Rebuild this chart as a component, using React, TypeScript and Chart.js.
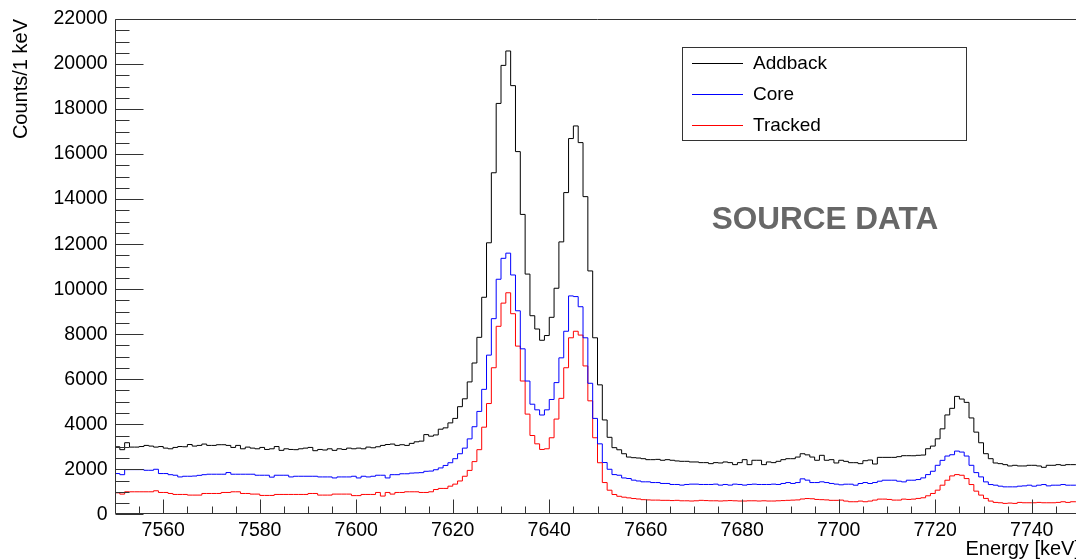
import React, { useEffect, useRef } from "react";
import { Chart, registerables } from "chart.js";

Chart.register(...registerables);

// ---- data: 1 keV bins, low edge of first bin = 7550 keV ----
const FIRST_BIN_EDGE = 7550;
const BIN_WIDTH = 1;
const X_MIN = 7550;
const X_MAX = 7750;
const Y_MIN = 0;
const Y_MAX = 22000;

const xTickLabels = [7560, 7580, 7600, 7620, 7640, 7660, 7680, 7700, 7720, 7740];
const yTickLabels = [0, 2000, 4000, 6000, 8000, 10000, 12000, 14000, 16000, 18000, 20000, 22000];

const seriesNames = ["Addback", "Core", "Tracked"];
const seriesColors = ["#000000", "#0000ff", "#ff0000"];

const addback = [
  3000, 2870, 3180, 2985, 2985, 3010, 3060, 3030, 2985, 3010,
  2940, 2910, 2970, 3010, 3000, 3100, 3030, 3060, 3120, 3060,
  3060, 3090, 3090, 3060, 2970, 3060, 2910, 2985, 2940, 2910,
  2970, 2880, 2910, 3010, 2840, 2910, 2880, 2870, 2910, 2940,
  2970, 2825, 2880, 2855, 2910, 2840, 2910, 2880, 2940, 2910,
  2940, 2910, 2985, 2955, 3000, 3060, 3100, 3120, 3060, 3090,
  3060, 3150, 3220, 3250, 3540, 3470, 3525, 3780, 3840, 4060,
  4260, 4780, 5130, 5880, 6720, 7860, 9640, 12060, 15170, 18250,
  19940, 20580, 19040, 16110, 13320, 10670, 8820, 8230, 7730, 7940,
  8750, 10040, 12100, 14290, 16690, 17250, 16510, 14110, 10810, 7840,
  5750, 4190, 3420, 2960, 2866, 2690, 2543, 2515, 2500, 2470,
  2427, 2427, 2440, 2400, 2427, 2400, 2370, 2353, 2353, 2325,
  2325, 2295, 2295, 2250, 2295, 2280, 2325, 2295, 2206, 2295,
  2427, 2206, 2400, 2400, 2206, 2325, 2295, 2353, 2427, 2470,
  2470, 2543, 2690, 2640, 2543, 2400, 2620, 2400, 2427, 2280,
  2400, 2352, 2293, 2293, 2250, 2380, 2411, 2234, 2529, 2529,
  2529, 2529, 2560, 2603, 2603, 2600, 2620, 2632, 2912, 3030,
  3352, 3796, 4413, 4707, 5237, 5119, 4972, 4280, 3650, 3178,
  2692, 2470, 2279, 2250, 2206, 2147, 2176, 2147, 2147, 2176,
  2176, 2147, 2087, 2176, 2176, 2206, 2176, 2206, 2206, 2206,
];

const core = [
  1810, 1760, 1985, 1985, 1985, 1985, 1955, 1955, 2000, 1810,
  1810, 1760, 1735, 1660, 1690, 1690, 1700, 1730, 1760, 1780,
  1780, 1780, 1780, 1855, 1780, 1780, 1780, 1780, 1780, 1735,
  1735, 1735, 1650, 1735, 1735, 1735, 1660, 1690, 1690, 1690,
  1690, 1690, 1660, 1660, 1660, 1615, 1660, 1660, 1660, 1690,
  1615, 1690, 1660, 1690, 1735, 1735, 1615, 1760, 1760, 1800,
  1800, 1830, 1840, 1850, 1910, 1920, 1980, 2060, 2170, 2290,
  2470, 2690, 2940, 3350, 3890, 4570, 5550, 7070, 8690, 10440,
  11370, 11600, 10630, 9040, 7350, 5920, 4890, 4640, 4410, 4640,
  5100, 5850, 6950, 8130, 9700, 9670, 9220, 7840, 5820, 4260,
  3130, 2300, 2000, 1764, 1735, 1615, 1590, 1516, 1480, 1443,
  1443, 1410, 1410, 1370, 1370, 1325, 1325, 1296, 1325, 1340,
  1340, 1325, 1325, 1325, 1340, 1296, 1325, 1296, 1340, 1325,
  1296, 1325, 1340, 1325, 1325, 1325, 1340, 1325, 1370, 1410,
  1370, 1410, 1575, 1516, 1410, 1410, 1443, 1410, 1370, 1340,
  1310, 1337, 1337, 1293, 1368, 1411, 1368, 1411, 1470, 1514,
  1514, 1514, 1470, 1440, 1514, 1514, 1543, 1617, 1764, 1911,
  2176, 2396, 2588, 2646, 2808, 2764, 2588, 2176, 1852, 1661,
  1440, 1322, 1293, 1249, 1219, 1219, 1219, 1249, 1263, 1293,
  1249, 1293, 1322, 1263, 1293, 1293, 1322, 1293, 1293, 1293,
];

const tracked = [
  955, 897, 1000, 1000, 1000, 1000, 1000, 1000, 1045, 970,
  970, 925, 882, 882, 882, 853, 853, 853, 925, 925,
  925, 925, 970, 970, 1000, 1000, 925, 925, 897, 897,
  838, 838, 838, 882, 882, 882, 882, 882, 882, 882,
  925, 925, 853, 853, 853, 897, 897, 897, 897, 830,
  830, 882, 882, 882, 970, 810, 970, 897, 970, 970,
  1000, 1000, 1000, 970, 970, 1000, 1100, 1150, 1150, 1250,
  1340, 1480, 1690, 1950, 2340, 2870, 3870, 4920, 6510, 8350,
  9380, 9840, 8910, 7470, 5920, 4450, 3500, 3130, 2880, 2910,
  3400, 4230, 5150, 6510, 7840, 8130, 7960, 6590, 5040, 3400,
  2290, 1410, 1070, 880, 800, 760, 730, 700, 680, 650,
  640, 630, 630, 620, 620, 610, 620, 600, 600, 590,
  600, 620, 610, 600, 600, 590, 600, 610, 600, 590,
  590, 600, 600, 590, 600, 590, 590, 600, 610, 620,
  630, 640, 680, 700, 690, 660, 650, 640, 620, 620,
  631, 587, 558, 558, 587, 558, 587, 631, 675, 675,
  660, 631, 631, 675, 660, 675, 705, 734, 822, 925,
  1072, 1293, 1514, 1705, 1764, 1734, 1587, 1322, 1028, 852,
  705, 587, 528, 513, 484, 499, 484, 528, 513, 513,
  513, 528, 513, 513, 513, 528, 558, 528, 558, 558,
];

const xTitle = "Energy [keV]";
const yTitle = "Counts/1 keV";
const watermark = "SOURCE DATA";

const FONT = '"Liberation Sans", Arial, Helvetica, sans-serif';

function toSteps(values: number[]) {
  const pts = values.map((v, i) => ({ x: FIRST_BIN_EDGE + i * BIN_WIDTH, y: v }));
  pts.push({ x: FIRST_BIN_EDGE + values.length * BIN_WIDTH, y: values[values.length - 1] });
  return pts;
}

const rootStylePlugin = {
  id: "rootStyle",
  afterDraw(chart: any) {
    const { ctx, chartArea: a, scales } = chart;
    const xs = scales.x;
    const ys = scales.y;
    ctx.save();
    const L = Math.round(a.left) + 0.5;
    const B = Math.round(a.bottom) - 0.5;
    const T = Math.round(a.top) + 0.5;
    const R = Math.round(a.right) - 0.5;
    ctx.strokeStyle = "#333";
    ctx.lineWidth = 1;
    ctx.beginPath();
    ctx.moveTo(L, B);
    ctx.lineTo(L, T);
    ctx.lineTo(R, T);
    ctx.lineTo(R, B);
    ctx.lineTo(L, B);
    ctx.stroke();

    // x ticks (inside), major every 20, minor every 5
    ctx.beginPath();
    for (let v = X_MIN; v <= X_MAX; v += 5) {
      const px = Math.round(xs.getPixelForValue(v)) + 0.5;
      const len = v % 20 === 0 ? 14 : 7;
      ctx.moveTo(px, B);
      ctx.lineTo(px, B - len);
    }
    // y ticks (inside), major every 2000, minor every 500
    for (let v = Y_MIN; v <= Y_MAX; v += 500) {
      const py = Math.round(ys.getPixelForValue(v)) + 0.5;
      const len = v % 2000 === 0 ? 28 : 14;
      ctx.moveTo(L, py);
      ctx.lineTo(L + len, py);
    }
    ctx.stroke();

    // x tick labels, placed through the x scale
    ctx.fillStyle = "#000";
    ctx.font = `19.5px ${FONT}`;
    ctx.textAlign = "center";
    ctx.textBaseline = "alphabetic";
    xs.ticks.forEach((t: any) => {
      ctx.fillText(String(t.value), xs.getPixelForValue(t.value), 535.5);
    });

    // axis titles
    ctx.font = `20px ${FONT}`;
    ctx.textAlign = "right";
    ctx.fillText(xTitle, a.right, 554.5);
    ctx.save();
    ctx.translate(26.5, a.top);
    ctx.rotate(-Math.PI / 2);
    ctx.textAlign = "right";
    ctx.fillText(yTitle, 0, 0);
    ctx.restore();

    // watermark
    ctx.fillStyle = "#676767";
    ctx.font = `bold 31.5px ${FONT}`;
    ctx.textAlign = "center";
    ctx.textBaseline = "middle";
    ctx.fillText(watermark, 825, 220);

    // legend box
    const lx0 = 682.5, ly0 = 47.5, lx1 = 966.5, ly1 = 140.5;
    ctx.fillStyle = "#fff";
    ctx.fillRect(lx0, ly0, lx1 - lx0, ly1 - ly0);
    ctx.strokeStyle = "#333";
    ctx.strokeRect(lx0, ly0, lx1 - lx0, ly1 - ly0);
    const rows = [63, 94, 125];
    ctx.font = `19px ${FONT}`;
    ctx.textAlign = "left";
    ctx.textBaseline = "middle";
    chart.data.datasets.forEach((ds: any, i: number) => {
      const ry = rows[i] + 0.5;
      ctx.strokeStyle = ds.borderColor;
      ctx.beginPath();
      ctx.moveTo(692, ry);
      ctx.lineTo(743, ry);
      ctx.stroke();
      ctx.fillStyle = "#000";
      ctx.fillText(ds.label, 753, rows[i] + 1);
    });
    ctx.restore();
  },
};

export default function App() {
  const ref = useRef<HTMLCanvasElement | null>(null);
  useEffect(() => {
    if (!ref.current) return;
    const chart = new Chart(ref.current, {
      type: "line",
      data: {
        datasets: [addback, core, tracked].map((vals, i) => ({
          label: seriesNames[i],
          data: toSteps(vals),
          borderColor: seriesColors[i],
          borderWidth: 1,
          pointRadius: 0,
          stepped: "before" as const,
          fill: false,
          tension: 0,
        })),
      },
      options: {
        responsive: false,
        animation: false,
        events: [],
        layout: { padding: { left: 0, right: 20, top: 15.7, bottom: 0 } },
        plugins: { legend: { display: false }, tooltip: { enabled: false } },
        scales: {
          x: {
            type: "linear",
            min: X_MIN,
            max: X_MAX,
            grid: { display: false, drawTicks: false },
            border: { display: false },
            afterBuildTicks: (s: any) => {
              s.ticks = xTickLabels.map((v) => ({ value: v }));
            },
            ticks: { display: false },
            afterFit: (s: any) => {
              s.height = 45.7;
            },
          },
          y: {
            type: "linear",
            min: Y_MIN,
            max: Y_MAX,
            grid: { display: false, drawTicks: false },
            border: { display: false },
            afterBuildTicks: (s: any) => {
              s.ticks = yTickLabels.map((v) => ({ value: v }));
            },
            ticks: {
              autoSkip: false,
              padding: 7.3,
              color: "#000",
              font: { family: FONT, size: 19.5 },
              callback: (v: any) => String(v),
            },
            afterFit: (s: any) => {
              s.width = 115;
            },
          },
        },
      },
      plugins: [rootStylePlugin],
    });
    return () => chart.destroy();
  }, []);

  return (
    <div
      style={{
        position: "fixed",
        left: 0,
        top: 0,
        width: 1076,
        height: 560,
        overflow: "hidden",
        background: "#fff",
      }}
    >
      <canvas ref={ref} width={1100} height={560} style={{ display: "block" }} />
    </div>
  );
}
